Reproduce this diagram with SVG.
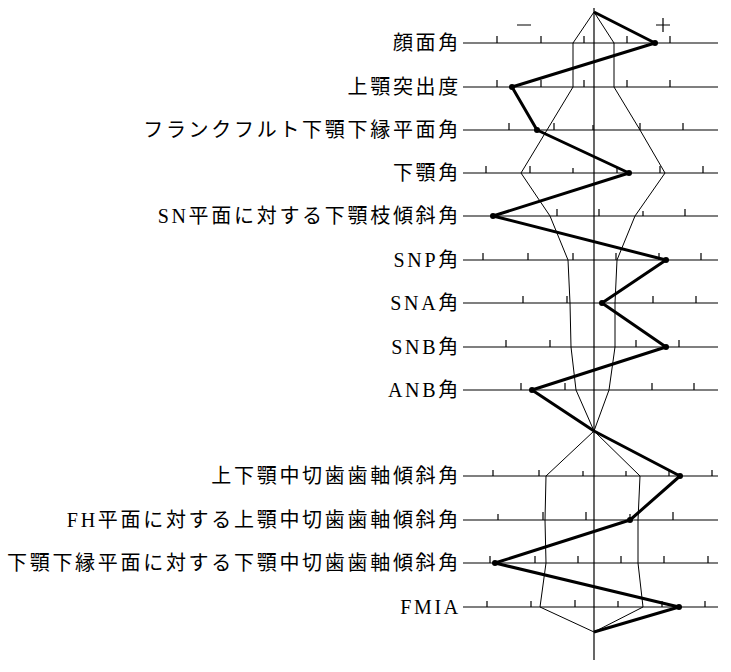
<svg xmlns="http://www.w3.org/2000/svg" width="731" height="672" viewBox="0 0 731 672">
<style>
.lbl{font-family:"Liberation Serif","Noto Sans CJK JP",serif;font-size:20px;letter-spacing:2.7px;fill:#000;text-anchor:end}
.axis{stroke:#000;stroke-width:1.2}
.tk{stroke:#000;stroke-width:1.2}
.env{fill:none;stroke:#000;stroke-width:1}
.pat{fill:none;stroke:#000;stroke-width:3;stroke-linejoin:round}
</style>
<rect width="731" height="672" fill="#fff"/>
<g id="labels">
<text class="lbl" x="461" y="50">顔面角</text>
<text class="lbl" x="461" y="94">上顎突出度</text>
<text class="lbl" x="461" y="137">フランクフルト下顎下縁平面角</text>
<text class="lbl" x="461" y="180">下顎角</text>
<text class="lbl" x="461" y="223">SN平面に対する下顎枝傾斜角</text>
<text class="lbl" x="461" y="267">SNP角</text>
<text class="lbl" x="461" y="310">SNA角</text>
<text class="lbl" x="461" y="354">SNB角</text>
<text class="lbl" x="461" y="397">ANB角</text>
<text class="lbl" x="461" y="483">上下顎中切歯歯軸傾斜角</text>
<text class="lbl" x="461" y="527">FH平面に対する上顎中切歯歯軸傾斜角</text>
<text class="lbl" x="461" y="570">下顎下縁平面に対する下顎中切歯歯軸傾斜角</text>
<text class="lbl" x="461" y="614">FMIA</text>
</g>
<g id="axes">
<line class="axis" x1="594" y1="8" x2="594" y2="660"/>
<g class="axis">
<line x1="463" y1="43" x2="718" y2="43"/>
<line x1="463" y1="87" x2="718" y2="87"/>
<line x1="463" y1="130" x2="718" y2="130"/>
<line x1="463" y1="173" x2="718" y2="173"/>
<line x1="463" y1="216" x2="718" y2="216"/>
<line x1="463" y1="260" x2="718" y2="260"/>
<line x1="463" y1="303" x2="718" y2="303"/>
<line x1="463" y1="347" x2="718" y2="347"/>
<line x1="463" y1="390" x2="718" y2="390"/>
<line x1="463" y1="476" x2="718" y2="476"/>
<line x1="463" y1="520" x2="718" y2="520"/>
<line x1="463" y1="563" x2="718" y2="563"/>
<line x1="463" y1="607" x2="718" y2="607"/>
</g>
<path class="tk" d="M497 43v-7M541 43v-7M584 43v-7M627 43v-7M670 43v-7
M497 87v-7M541 87v-7M584 87v-7M627 87v-7M670 87v-7
M509 130v-7M554 130v-7M593 130v-5M640 130v-7M683 130v-7
M486 173v-7M530 173v-7M573 173v-5M617 173v-5M660 173v-7M703 173v-7
M557 216v-7M599 216v-7M643 216v-5M685 216v-7
M483 260v-7M528 260v-7M573 260v-7M616 260v-7M659 260v-7M701 260v-7
M523 303v-7M567 303v-7M653 303v-7M696 303v-7
M506 347v-7M550 347v-7M636 347v-7M679 347v-7
M521 390v-7M565 390v-7M652 390v-7M694 390v-7
M493 476v-6M539 476v-6M583 476v-5M626 476v-5M669 476v-5M712 476v-6
M498 520v-6M543 520v-8M586 520v-8M630 520v-6M673 520v-8
M490 563v-7M535 563v-7M578 563v-7M621 563v-7M664 563v-7M708 563v-7
M487 607v-6M531 607v-6M575 607v-7M618 607v-6M662 607v-6M705 607v-6"/>
<path class="tk" d="M517 25h14M656 25h14M663 18v14" stroke-width="1.5"/>
</g>
<g id="connectors">
<path class="env" d="M594 12 L573 43 L573 87 L547 130 L521 173 L550 216 L568 260 L570 303 L571 347 L576 390 L594 431 L609 390 L615 347 L615 303 L617 260 L635 216 L665 173 L640 130 L614 87 L614 43 Z"/>
<path class="env" d="M594 431 L546 476 L545 520 L546 563 L540 607 L594 632 L643 607 L638 563 L638 520 L640 476 Z"/>
<polyline class="pat" points="594,12 655,43 512,87 537,130 629,173 493,216 666,260 602,303 666,347 532,390 594,431 680,476 630,520 495,563 679,607 594,632"/>
</g>
<g id="points" fill="#000">
<circle cx="655" cy="43" r="3"/><circle cx="512" cy="87" r="3"/><circle cx="537" cy="130" r="3"/><circle cx="629" cy="173" r="3"/><circle cx="493" cy="216" r="3"/><circle cx="666" cy="260" r="3"/><circle cx="602" cy="303" r="3"/><circle cx="666" cy="347" r="3"/><circle cx="532" cy="390" r="3"/><circle cx="680" cy="476" r="3"/><circle cx="630" cy="520" r="3"/><circle cx="495" cy="563" r="3"/><circle cx="679" cy="607" r="3"/>
</g>
</svg>
